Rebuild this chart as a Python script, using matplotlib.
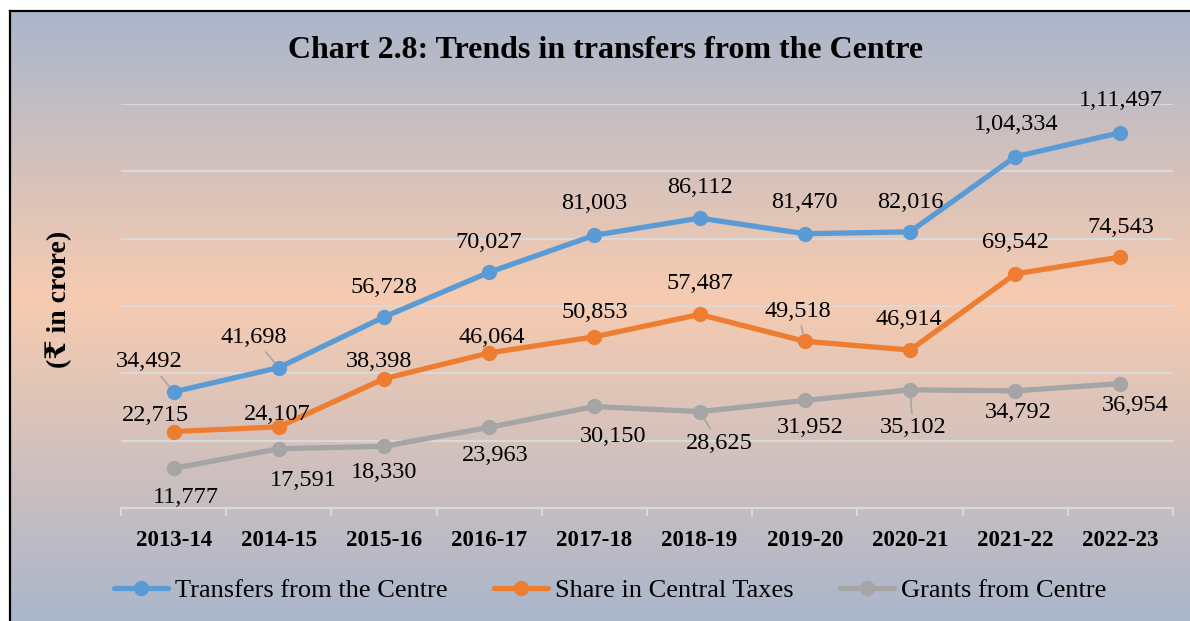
import numpy as np
import matplotlib.pyplot as plt
from matplotlib.colors import LinearSegmentedColormap

# chart data (Rs crore)
years = ['2013-14', '2014-15', '2015-16', '2016-17', '2017-18',
         '2018-19', '2019-20', '2020-21', '2021-22', '2022-23']
transfers = [34492, 41698, 56728, 70027, 81003, 86112, 81470, 82016, 104334, 111497]
share_taxes = [22715, 24107, 38398, 46064, 50853, 57487, 49518, 46914, 69542, 74543]
grants = [11777, 17591, 18330, 23963, 30150, 28625, 31952, 35102, 34792, 36954]

# label offsets in pixels (dx, dy) from each point
off_transfers = [(-24, 30), (-25, 30), (0, 30), (0, 30), (0, 32),
                 (0, 31), (0, 31), (0, 29), (1, 32), (0, 32)]
off_share = [(-18, 16), (-2, 12), (-5, 17), (3, 15), (0, 24),
             (0, 31), (-7, 30), (-1, 31), (0, 31), (0, 30)]
off_grants = [(12, -29), (24, -32), (0, -26), (6, -28), (19, -30),
              (20, -32), (5, -27), (3, -38), (3, -22), (15, -22)]
# which labels get a leader line
lead_transfers = [0, 1]
lead_share = [6]
lead_grants = [5, 7]

W, H = 1190, 621
plt.rcParams['font.family'] = ['Liberation Serif', 'DejaVu Serif']


def indian(v):
    s = str(v)
    if len(s) <= 3:
        return s
    head, tail = s[:-3], s[-3:]
    parts = []
    while len(head) > 2:
        parts.insert(0, head[-2:])
        head = head[:-2]
    if head:
        parts.insert(0, head)
    return ','.join(parts) + ',' + tail


fig = plt.figure(figsize=(W / 100, H / 100), dpi=100)

# gradient background of the chart area
bg = fig.add_axes([10 / W, 0, 1 - 10 / W, 1 - 11 / H])
cmap = LinearSegmentedColormap.from_list(
    'bg', [(0, '#AAB6CB'), (0.47, '#F7CBB0'), (1, '#AAB6CB')])
grad = np.linspace(0, 1, 256).reshape(-1, 1)
bg.imshow(grad, aspect='auto', cmap=cmap, extent=[0, 1, 0, 1], origin='upper')
bg.set_xticks([])
bg.set_yticks([])
for side in ['right', 'bottom']:
    bg.spines[side].set_visible(False)
for side in ['left', 'top']:
    bg.spines[side].set_linewidth(1.6)
    bg.spines[side].set_color('black')

ax = fig.add_axes([121 / W, 1 - 508 / H, (1173 - 121) / W, (508 - 104) / H])
ax.set_facecolor('none')
x = np.arange(len(years))

series = [
    (transfers, '#5B9BD5', 'Transfers from the Centre', off_transfers, lead_transfers),
    (share_taxes, '#ED7D31', 'Share in Central Taxes', off_share, lead_share),
    (grants, '#A5A5A5', 'Grants from Centre', off_grants, lead_grants),
]
for vals, col, name, offs, leads in series:
    ax.plot(x, vals, color=col, lw=3.8, marker='o', ms=10, label=name,
            solid_capstyle='round', solid_joinstyle='round', zorder=3)
    for i, v in enumerate(vals):
        props = None
        if i in leads:
            props = dict(arrowstyle='-', color='#A6A6A6', lw=1.2,
                         shrinkA=1, shrinkB=5)
        ax.annotate(indian(v), (x[i], v), xytext=offs[i],
                    textcoords='offset pixels', ha='center', va='center',
                    fontsize=17.5, color='black', arrowprops=props, zorder=4)

ax.set_xlim(-0.5, len(years) - 0.5)
ax.set_ylim(0, 120000)
ax.set_yticks(range(0, 120001, 20000))
ax.yaxis.grid(True, color='#D9D9D9', lw=1.5)
ax.set_axisbelow(True)
ax.tick_params(axis='y', left=False, labelleft=False)
ax.set_xticks(x)
ax.set_xticklabels(years, fontsize=16.5, fontweight='bold')
ax.set_xticks(np.arange(-0.5, len(years), 1), minor=True)
ax.tick_params(axis='x', which='major', length=0, pad=16)
ax.tick_params(axis='x', which='minor', length=6, width=1.5, color='#D9D9D9')
for side in ['left', 'right', 'top']:
    ax.spines[side].set_visible(False)
ax.spines['bottom'].set_color('#D9D9D9')
ax.spines['bottom'].set_linewidth(1.5)

fig.text(606 / W, 1 - 50 / H, 'Chart 2.8: Trends in transfers from the Centre',
         ha='center', va='center', fontsize=23, fontweight='bold')
fig.text(59 / W, 1 - 299 / H, '(₹ in crore)', rotation=90, ha='center',
         va='center', fontsize=20, fontweight='bold')

fig.legend(loc='center', bbox_to_anchor=(610 / W, 1 - 590 / H), ncol=3,
           frameon=False, fontsize=19, handlelength=2.05, handletextpad=0.27,
           columnspacing=1.75)

fig.savefig('out.png', dpi=100)
